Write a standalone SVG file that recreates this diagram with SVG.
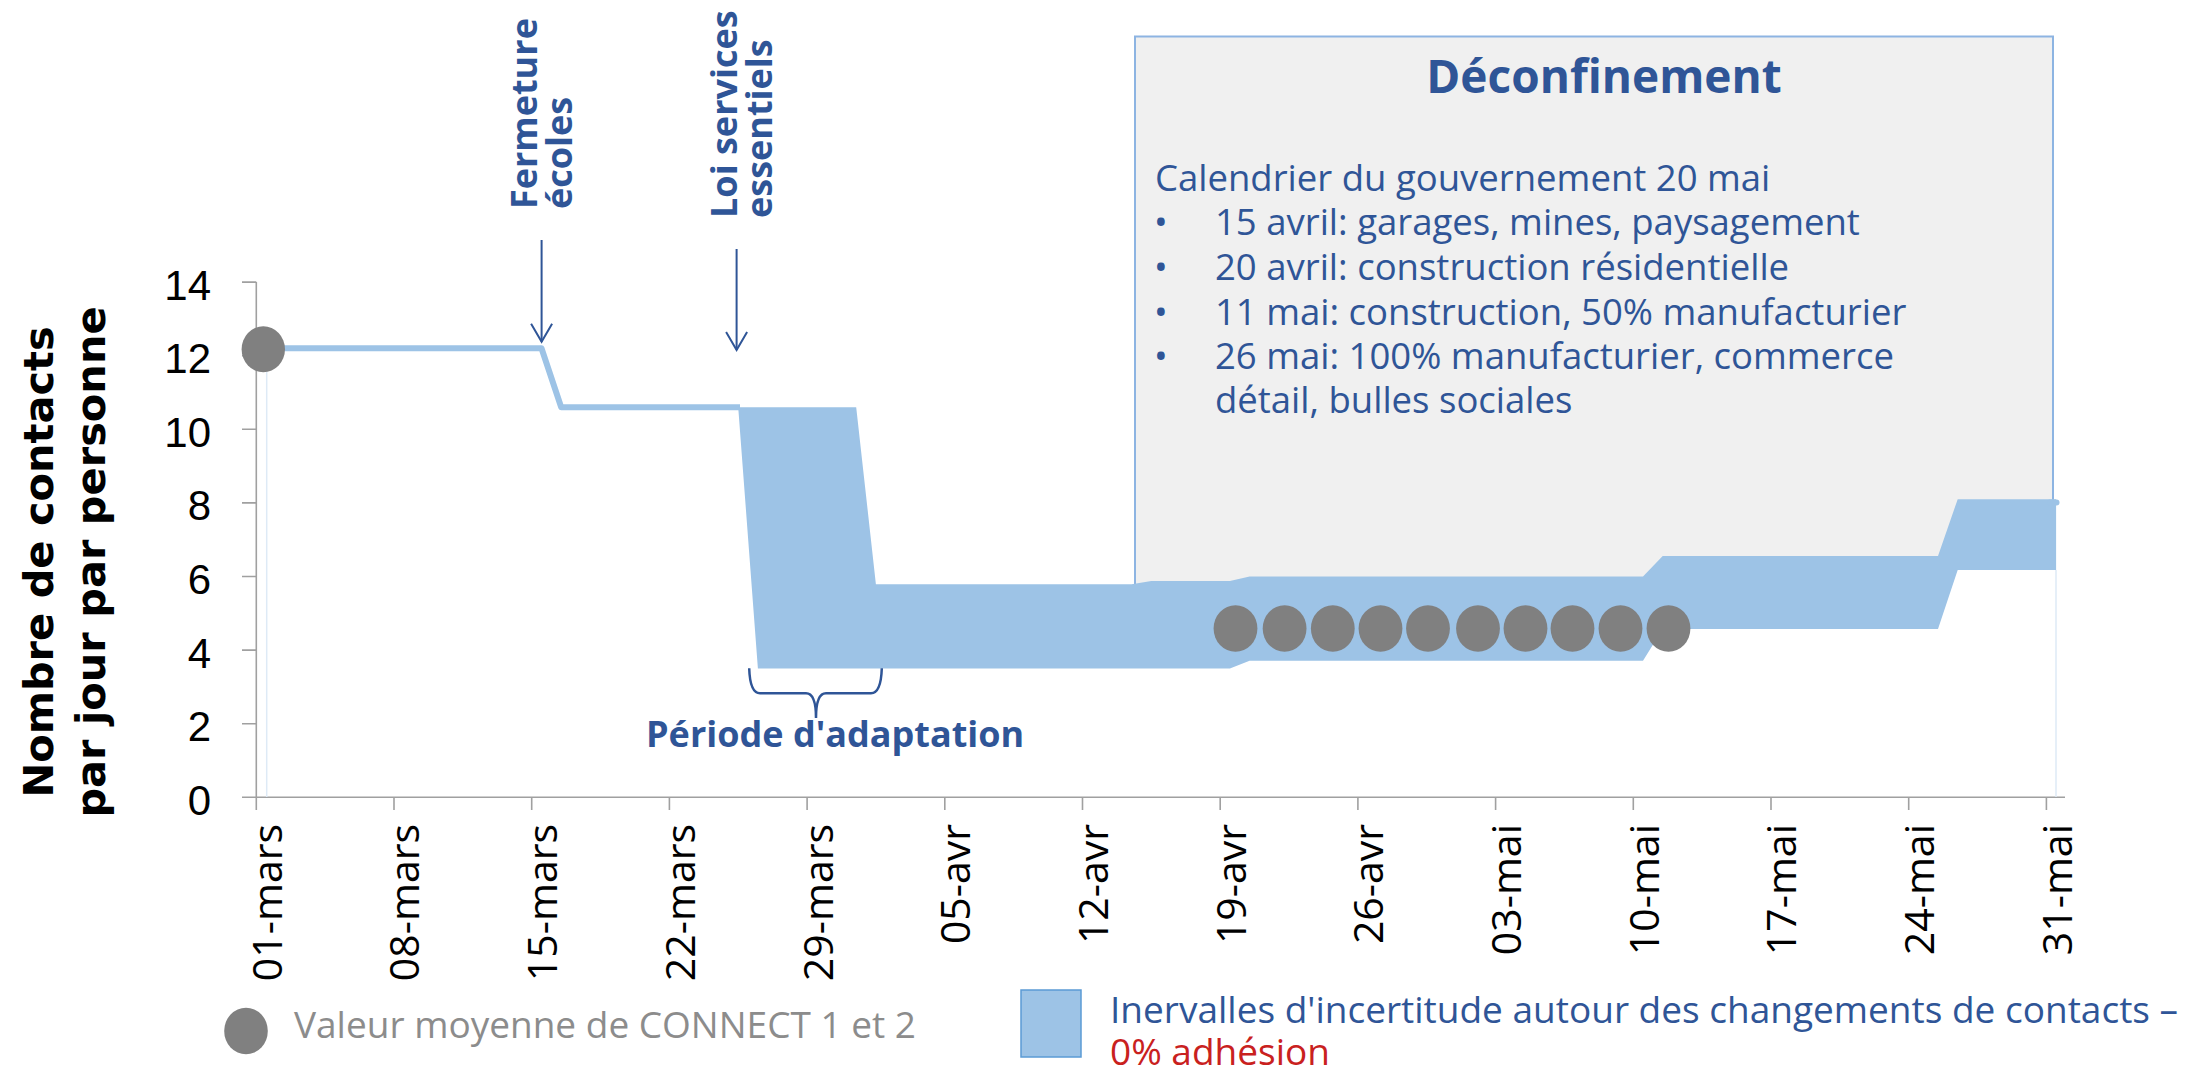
<svg xmlns="http://www.w3.org/2000/svg" width="2206" height="1069" viewBox="0 0 2206 1069">
<style>
.body{font-family:"Open Sans","Liberation Sans",sans-serif;}
.ytick{font-family:"Liberation Sans",Arial,sans-serif;font-size:42px;fill:#000;text-anchor:end;}
.xtick{font-family:"Open Sans","Liberation Sans",sans-serif;font-size:41px;fill:#000;text-anchor:end;}
.ytitle{font-family:"DejaVu Sans",sans-serif;font-weight:bold;font-size:41.5px;fill:#000;text-anchor:middle;}
.event{font-family:"Open Sans","Liberation Sans",sans-serif;font-weight:bold;font-size:36px;fill:#2F5597;}
.boxtxt{font-family:"Open Sans","Liberation Sans",sans-serif;font-size:36.5px;fill:#2F5597;}
.axis{stroke:#A0A0A0;stroke-width:1.6;fill:none;}
.marker{fill:#808080;}
.band{fill:#9DC3E6;}
.dark{stroke:#2F5597;fill:none;}
</style>
<defs>
<marker id="arrow" markerUnits="userSpaceOnUse" markerWidth="24" markerHeight="24" refX="20" refY="12" orient="auto">
<path d="M2,1.5 L20,12 L2,22.5" fill="none" stroke="#2F5597" stroke-width="2"/>
</marker>
</defs>
<rect width="2206" height="1069" fill="#fff"/>

<g id="deconfinement-box">
<polygon points="1135,36.5 2053,36.5 2053,570 1957.7,570 1938,584 1135,584" fill="#F0F0F0"/>
<path d="M1135,584 V36.5 H2053 V500" fill="none" stroke="#8DB4E2" stroke-width="2"/>
<text class="body" x="1604" y="93" font-size="46" font-weight="bold" fill="#2F5597" text-anchor="middle">Déconfinement</text>
<text class="boxtxt" x="1155" y="191">Calendrier du gouvernement 20 mai</text>
<g class="boxtxt">
<text x="1154" y="235">•</text><text x="1215" y="235">15 avril: garages, mines, paysagement</text>
<text x="1154" y="280">•</text><text x="1215" y="280">20 avril: construction résidentielle</text>
<text x="1154" y="325">•</text><text x="1215" y="325">11 mai: construction, 50% manufacturier</text>
<text x="1154" y="369">•</text><text x="1215" y="369">26 mai: 100% manufacturier, commerce</text>
<text x="1215" y="413">détail, bulles sociales</text>
</g>
</g>

<g id="axes">
<line class="axis" x1="256.3" y1="282" x2="256.3" y2="797.3"/>
<line class="axis" x1="242" y1="797.3" x2="2065" y2="797.3"/>
<path class="axis" d="M242,282.1H256.3M242,355.7H256.3M242,429.3H256.3M242,502.9H256.3M242,576.5H256.3M242,650.1H256.3M242,723.7H256.3"/>
<path class="axis" d="M256.3,797.3V810M394,797.3V810M531.7,797.3V810M669.4,797.3V810M807.1,797.3V810M944.8,797.3V810M1082.5,797.3V810M1220.2,797.3V810M1357.9,797.3V810M1495.6,797.3V810M1633.3,797.3V810M1771,797.3V810M1908.7,797.3V810M2046.4,797.3V810"/>
<g class="ytick">
<text x="211" y="299.6">14</text>
<text x="211" y="373.2">12</text>
<text x="211" y="446.8">10</text>
<text x="211" y="520.4">8</text>
<text x="211" y="594">6</text>
<text x="211" y="667.6">4</text>
<text x="211" y="741.2">2</text>
<text x="211" y="814.8">0</text>
</g>
<g class="xtick">
<text transform="translate(281.7,824) rotate(-90)">01-mars</text>
<text transform="translate(419.4,824) rotate(-90)">08-mars</text>
<text transform="translate(557.1,824) rotate(-90)">15-mars</text>
<text transform="translate(694.8,824) rotate(-90)">22-mars</text>
<text transform="translate(832.5,824) rotate(-90)">29-mars</text>
<text transform="translate(970.2,824) rotate(-90)">05-avr</text>
<text transform="translate(1107.9,824) rotate(-90)">12-avr</text>
<text transform="translate(1245.6,824) rotate(-90)">19-avr</text>
<text transform="translate(1383.3,824) rotate(-90)">26-avr</text>
<text transform="translate(1521,824) rotate(-90)">03-mai</text>
<text transform="translate(1658.7,824) rotate(-90)">10-mai</text>
<text transform="translate(1796.4,824) rotate(-90)">17-mai</text>
<text transform="translate(1934.1,824) rotate(-90)">24-mai</text>
<text transform="translate(2071.8,824) rotate(-90)">31-mai</text>
</g>
<text class="ytitle" transform="translate(53,562) rotate(-90)">Nombre de contacts</text>
<text class="ytitle" transform="translate(105,562) rotate(-90)">par jour par personne</text>
</g>

<g id="series">
<line x1="266.7" y1="372" x2="266.7" y2="797" stroke="#DEEAF6" stroke-width="1.5"/>
<line x1="2056" y1="570" x2="2056" y2="797" stroke="#DEEAF6" stroke-width="1.5"/>
<polygon id="uncertainty-band" class="band" points="738.2,407.2 856.2,407.2 875.9,584.2 1131.6,584.2 1151.3,580.9 1229.9,580.9 1249.6,576.5 1643,576.5 1662.7,555.9 1938,555.9 1957.7,499.2 2056.1,499.2 2056.1,569.9 1957.7,569.9 1938,629.1 1662.7,629.1 1643,660.8 1249.6,660.8 1229.9,668.5 757.9,668.5"/>
<polyline id="contact-line" points="266.1,348.3 541.5,348.3 561.2,407.2 740,407.2" fill="none" stroke="#9DC3E6" stroke-width="6" stroke-linejoin="round"/>
<line x1="2050" y1="502.5" x2="2056.5" y2="502.5" stroke="#9DC3E6" stroke-width="6" stroke-linecap="round"/>
<g id="connect-markers" class="marker">
<ellipse cx="263.3" cy="349.3" rx="21.7" ry="23"/>
<ellipse cx="1235.5" cy="628.5" rx="21.9" ry="23.3"/>
<ellipse cx="1284.6" cy="628.5" rx="21.9" ry="23.3"/>
<ellipse cx="1332.8" cy="628.5" rx="21.9" ry="23.3"/>
<ellipse cx="1380.5" cy="628.5" rx="21.9" ry="23.3"/>
<ellipse cx="1428" cy="628.5" rx="21.9" ry="23.3"/>
<ellipse cx="1478" cy="628.5" rx="21.9" ry="23.3"/>
<ellipse cx="1525.5" cy="628.5" rx="21.9" ry="23.3"/>
<ellipse cx="1572.5" cy="628.5" rx="21.9" ry="23.3"/>
<ellipse cx="1620.5" cy="628.5" rx="21.9" ry="23.3"/>
<ellipse cx="1668.5" cy="628.5" rx="21.9" ry="23.3"/>
</g>
</g>

<g id="connectors">
<line class="dark" x1="541.6" y1="240" x2="541.6" y2="341.7" stroke-width="2" marker-end="url(#arrow)"/>
<line class="dark" x1="736.6" y1="249" x2="736.6" y2="350" stroke-width="2" marker-end="url(#arrow)"/>
<path class="dark" stroke-width="2.5" d="M749.2,668.3 Q750,693.3 760,693.3 L806,693.3 Q816,693.3 816,718 Q816,693.3 826,693.3 L871,693.3 Q881,693.3 881.8,668.3"/>
</g>

<g id="event-fermeture">
<text class="event" transform="translate(537,209) rotate(-90)">Fermeture</text>
<text class="event" transform="translate(572,209) rotate(-90)">écoles</text>
</g>
<g id="event-loi">
<text class="event" transform="translate(737,218) rotate(-90)">Loi services</text>
<text class="event" transform="translate(772,218) rotate(-90)">essentiels</text>
</g>
<g id="periode-label">
<text class="event" x="646" y="747" font-size="34">Période d'adaptation</text>
</g>

<g id="legend">
<g id="legend-connect">
<ellipse class="marker" cx="246" cy="1031" rx="21.8" ry="23.3"/>
<text class="body" x="294" y="1038" font-size="37" fill="#8C8C8C">Valeur moyenne de CONNECT 1 et 2</text>
</g>
<g id="legend-band">
<rect x="1021" y="990" width="60" height="67" fill="#9DC3E6" stroke="#5B9BD5" stroke-width="1.5"/>
<text class="body" x="1110" y="1023" font-size="37" fill="#2F5597">Inervalles d'incertitude autour des changements de contacts –</text>
<text class="body" x="1110" y="1065" font-size="37" fill="#C9211E">0% adhésion</text>
</g>
</g>
</svg>
